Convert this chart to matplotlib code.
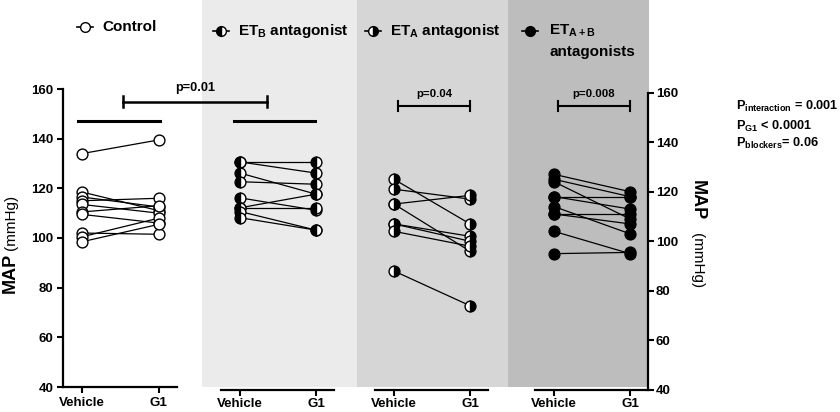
import matplotlib
matplotlib.use('Agg')
import matplotlib.pyplot as plt
from matplotlib.patches import Rectangle
from matplotlib.lines import Line2D

plt.rcParams['font.family'] = ['Liberation Sans', 'DejaVu Sans']
plt.rcParams['mathtext.fontset'] = 'custom'
plt.rcParams['mathtext.rm'] = 'Liberation Sans:bold'
plt.rcParams['mathtext.it'] = 'Liberation Sans:bold'
plt.rcParams['mathtext.bf'] = 'Liberation Sans:bold'

# data (MAP, mmHg), paired vehicle -> G1 per animal
conditions = ['Vehicle', 'G1']
group_names = ['Control', 'ET$_\\mathregular{B}$ antagonist',
               'ET$_\\mathregular{A}$ antagonist', 'ET$_\\mathregular{A+B}$']
group_second_line = 'antagonists'

control_vehicle = [134, 118.5, 116.5, 115, 113.5, 110.5, 109.5, 102, 100.5, 98.5]
control_g1 = [139.5, 111, 112.5, 116, 110, 113, 106, 101.5, 108, 105.5]

etb_vehicle = [132, 132, 127.5, 124, 117.5, 113.5, 113.5, 112, 109.5]
etb_g1 = [132, 127.5, 119, 123, 112.5, 119, 113.5, 104.5, 104.5]

eta_vehicle = [125, 121, 115, 115, 107, 107, 104, 88]
eta_g1 = [107, 117, 118.5, 96, 102, 100, 98, 74]

etab_vehicle = [127, 125, 124, 118, 118, 114, 111, 111, 104, 95]
etab_g1 = [120, 118, 109, 118, 113, 103, 111, 107, 95, 95.5]

p_labels = ['p=0.01', 'p=0.04', 'p=0.008']
stats_lines = ['P$_\\mathregular{interaction}$ = 0.001',
               'P$_\\mathregular{G1}$ < 0.0001',
               'P$_\\mathregular{blockers}$= 0.06']
yticks = [40, 60, 80, 100, 120, 140, 160]

W, H = 840, 412
fig = plt.figure(figsize=(W / 100, H / 100), dpi=100)


def fx(px):
    return px / W


def fy(py):
    return 1 - py / H


# shaded backgrounds behind the three antagonist groups
for x0, x1, col in [(202, 357, '#ebebeb'), (357, 508, '#d6d6d6'), (508, 649, '#bdbdbd')]:
    fig.patches.append(Rectangle((fx(x0), fy(387)), fx(x1 - x0), 387 / H,
                                 transform=fig.transFigure, facecolor=col,
                                 edgecolor='none', zorder=-5))

ax0 = fig.add_axes([fx(63), fy(387), fx(114), 298 / H])
ax1 = fig.add_axes([fx(221), fy(390), fx(113), 297.5 / H])
ax2 = fig.add_axes([fx(375), fy(390), fx(113), 297.5 / H])
ax3 = fig.add_axes([fx(535), fy(390), fx(113), 297.5 / H])
axes = [ax0, ax1, ax2, ax3]

series = [(control_vehicle, control_g1), (etb_vehicle, etb_g1),
          (eta_vehicle, eta_g1), (etab_vehicle, etab_g1)]
mstyles = [dict(fillstyle='full', markerfacecolor='white'),
           dict(fillstyle='left', markerfacecolor='black', markerfacecoloralt='white'),
           dict(fillstyle='right', markerfacecolor='black', markerfacecoloralt='white'),
           dict(fillstyle='full', markerfacecolor='black')]

for ax, (veh, g1), ms in zip(axes, series, mstyles):
    ax.patch.set_visible(False)
    for v, g in zip(veh, g1):
        ax.plot([0, 1], [v, g], color='black', lw=0.9, zorder=2, clip_on=False)
    for v, g in zip(veh, g1):
        ax.plot([0, 1], [v, g], ls='none', marker='o', markersize=7.8,
                markeredgecolor='black', markeredgewidth=1.0, zorder=3,
                clip_on=False, **ms)
    ax.set_xlim(-0.25, 1.237)
    ax.set_ylim(40, 160)
    ax.set_xticks([0, 1])
    ax.set_xticklabels(conditions, fontsize=9.6, fontweight='bold')
    ax.tick_params(axis='x', length=4.5, width=1.5, pad=1.5)
    for s in ['top', 'right', 'left']:
        ax.spines[s].set_visible(False)
    ax.spines['bottom'].set_linewidth(1.6)
    ax.set_yticks([])

ax0.spines['left'].set_visible(True)
ax0.spines['left'].set_linewidth(1.6)
ax0.set_yticks(yticks)
ax0.set_yticklabels([str(t) for t in yticks], fontsize=9.5, fontweight='bold')
ax0.tick_params(axis='y', length=4.5, width=1.5, pad=2.5)
ax0.tick_params(axis='x', pad=3)

ax3.spines['right'].set_visible(True)
ax3.spines['right'].set_linewidth(1.6)
ax3.yaxis.tick_right()
ax3.set_yticks(yticks)
ax3.set_yticklabels([str(t) for t in yticks], fontsize=9.5, fontweight='bold')
ax3.tick_params(axis='y', length=4.5, width=1.5, pad=1)

# thick reference lines above control and ETB groups
ax0.plot([-0.05, 1.01], [147.2, 147.2], color='black', lw=2.2, clip_on=False)
ax1.plot([-0.08, 0.99], [148.5, 148.5], color='black', lw=2.2, clip_on=False)

# control vs ETB bracket spanning two panels
x_end = ax0.transData.inverted().transform(ax1.transData.transform((0.36, 0)))[0]
yb = 154.8
ax0.plot([0.535, x_end], [yb, yb], color='black', lw=1.8, clip_on=False)
for xc in [0.535, x_end]:
    ax0.plot([xc, xc], [yb - 2.2, yb + 2.2], color='black', lw=1.8, clip_on=False)
ax0.text((0.535 + x_end) / 2, 157.8, p_labels[0], ha='center', va='bottom',
         fontsize=9.2, fontweight='bold')

for ax, lab in zip([ax2, ax3], p_labels[1:]):
    yb = 154.5
    x1b, x2b = 0.05, 1.0
    ax.plot([x1b, x2b], [yb, yb], color='black', lw=1.5, clip_on=False)
    for xc in [x1b, x2b]:
        ax.plot([xc, xc], [yb - 2, yb + 2], color='black', lw=1.5, clip_on=False)
    ax.text((x1b + x2b) / 2, 157.3, lab, ha='center', va='bottom',
            fontsize=8.2, fontweight='bold')

# group legends at the top
legend_pos = [(77, 102, 27), (213, 238, 31), (365, 390, 31), (522, 549, 31)]
for (ix, tx, ty), name, ms in zip(legend_pos, group_names, mstyles):
    fig.add_artist(Line2D([fx(ix), fx(ix + 16)], [fy(ty), fy(ty)],
                          transform=fig.transFigure, color='black', lw=1.2))
    fig.add_artist(Line2D([fx(ix + 8)], [fy(ty)], transform=fig.transFigure,
                          marker='o', markersize=7, markeredgecolor='black',
                          markeredgewidth=1.0, ls='none', **ms))
    fig.text(fx(tx), fy(ty), name, ha='left', va='center',
             fontsize=11, fontweight='bold')
fig.text(fx(549), fy(52), group_second_line, ha='left', va='center',
         fontsize=11, fontweight='bold')

# y axis labels: bold MAP and regular (mmHg) on a shared baseline
fig.text(fx(15), fy(293), 'MAP', rotation=90, rotation_mode='anchor',
         ha='left', va='baseline', fontsize=13, fontweight='bold')
fig.text(fx(15), fy(250), '(mmHg)', rotation=90, rotation_mode='anchor',
         ha='left', va='baseline', fontsize=11)
fig.text(fx(693), fy(180), 'MAP', rotation=-90, rotation_mode='anchor',
         ha='left', va='baseline', fontsize=13, fontweight='bold')
fig.text(fx(693), fy(233), '(mmHg)', rotation=-90, rotation_mode='anchor',
         ha='left', va='baseline', fontsize=11)

for line, py in zip(stats_lines, [110, 130, 147]):
    fig.text(fx(736), fy(py), line, ha='left', va='baseline', fontsize=9.2,
             fontweight='bold')

fig.savefig('out.png', dpi=100)
